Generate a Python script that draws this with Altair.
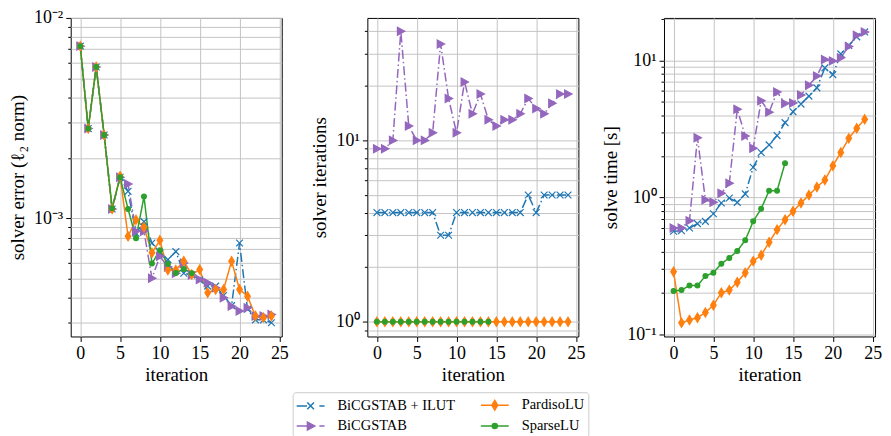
import altair as alt
import pandas as pd

series_names = ["BiCGSTAB + ILUT", "BiCGSTAB", "PardisoLU", "SparseLU"]
colors = ["#1f77b4", "#9467bd", "#ff7f0e", "#2ca02c"]

# solver error (l2 norm)
err_ilut = [7.23e-3, 2.80e-3, 5.69e-3, 2.60e-3, 1.11e-3, 1.60e-3, 1.36e-3, 8.4e-4, 9.6e-4, 7.5e-4,
            6.7e-4, 6.2e-4, 6.8e-4, 5.3e-4, 5.2e-4, 4.9e-4, 4.57e-4, 4.57e-4, 4.1e-4, 3.65e-4,
            7.5e-4, 3.5e-4, 3.1e-4, 3.1e-4, 3.0e-4]
err_bicg = [7.23e-3, 2.80e-3, 5.69e-3, 2.60e-3, 1.11e-3, 1.60e-3, 1.48e-3, 8.6e-4, 8.6e-4, 5.0e-4,
            6.45e-4, 5.7e-4, 5.3e-4, 5.97e-4, 5.2e-4, 4.93e-4, 4.75e-4, 4.49e-4, 4.0e-4, 3.63e-4,
            3.43e-4, 3.56e-4, 3.24e-4, 3.24e-4, 3.3e-4]
err_pardiso = [7.23e-3, 2.80e-3, 5.69e-3, 2.60e-3, 1.11e-3, 1.62e-3, 8.1e-4, 9.8e-4, 9.0e-4, 6.7e-4,
               7.74e-4, 5.5e-4, 5.5e-4, 6.09e-4, 5.22e-4, 5.53e-4, 4.23e-4, 4.40e-4, 4.40e-4, 6.09e-4,
               4.40e-4, 4.07e-4, 3.24e-4, 3.18e-4, 3.24e-4]
err_sparse = [7.23e-3, 2.80e-3, 5.69e-3, 2.60e-3, 1.12e-3, 1.60e-3, 1.11e-3, 7.92e-4, 1.28e-3, 5.93e-4,
              6.9e-4, 5.9e-4, 5.32e-4, 5.57e-4, 5.3e-4]

# solver iterations
it_ilut = [4, 4, 4, 4, 4, 4, 4, 4, 3, 3, 4, 4, 4, 4, 4, 4, 4, 4, 4, 5, 4, 5, 5, 5, 5]
it_bicg = [9, 9, 10, 40, 12, 10, 10, 11, 34, 17, 11, 21, 14, 18, 13, 12, 13, 13, 14, 17, 15, 14, 16, 18, 18]
it_pardiso = [1, 1, 1, 1, 1, 1, 1, 1, 1, 1, 1, 1, 1, 1, 1, 1, 1, 1, 1, 1, 1, 1, 1, 1, 1]
it_sparse = [1, 1, 1, 1, 1, 1, 1, 1, 1, 1, 1, 1, 1, 1, 1]

# solve time [s]
t_ilut = [0.565, 0.57, 0.597, 0.643, 0.668, 0.76, 0.909, 0.989, 0.92, 1.06, 1.66, 2.13, 2.42, 2.83,
          3.52, 4.23, 4.81, 5.5, 6.32, 8.85, 7.9, 11.2, 12.9, 14.9, 16.2]
t_bicg = [0.597, 0.597, 0.675, 2.73, 0.96, 0.92, 1.07, 1.27, 4.4, 2.81, 2.29, 5.09, 4.2, 5.9, 4.86,
          4.9, 5.6, 6.6, 7.7, 10.2, 9.95, 10.5, 12.7, 15.3, 16.2]
t_pardiso = [0.286, 0.121, 0.127, 0.132, 0.144, 0.163, 0.201, 0.210, 0.240, 0.281, 0.342, 0.378, 0.47,
             0.581, 0.687, 0.791, 0.91, 1.04, 1.19, 1.34, 1.70, 2.13, 2.70, 3.20, 3.72]
t_sparse = [0.207, 0.21, 0.227, 0.227, 0.266, 0.281, 0.327, 0.361, 0.406, 0.486, 0.668, 0.826, 1.12,
            1.12, 1.78]

x_ticks = [0, 5, 10, 15, 20, 25]

FONT = "Liberation Serif"

marker_paths = [
    "M-0.85,-0.85L0.85,0.85M-0.85,0.85L0.85,-0.85",
    "M-0.85,-1L1,0L-0.85,1Z",
    "M0,-1.15L0.7,0L0,1.15L-0.7,0Z",
    "M-0.6,0A0.6,0.6,0,1,0,0.6,0A0.6,0.6,0,1,0,-0.6,0Z",
]
legend_paths = [
    "M-1.75,0H-0.45M1.1,0H1.75M-0.42,-0.42L0.42,0.42M-0.42,0.42L0.42,-0.42",
    "M-1.75,0H-0.45M1.1,0H1.75M-0.4,-0.5L0.52,0L-0.4,0.5Z",
    "M-1.75,0H1.75M0,-0.6L0.36,0L0,0.6L-0.36,0Z",
    "M-1.75,0H1.75M-0.32,0A0.32,0.32,0,1,0,0.32,0A0.32,0.32,0,1,0,-0.32,0Z",
]
dash_range = [[9, 3, 1.5, 3], [9, 3, 1.5, 3], [1, 0], [1, 0]]


def make_df(ilut, bicg, pardiso, sparse):
    rows = []
    for name, vals in [("BiCGSTAB + ILUT", ilut), ("BiCGSTAB", bicg),
                       ("PardisoLU", pardiso), ("SparseLU", sparse)]:
        for i, v in enumerate(vals):
            rows.append({"iteration": i, "value": v, "series": name})
    return pd.DataFrame(rows)


def panel(df, ytitle, ydomain, yvalues, ylabels, with_legend=False):
    expr = " : ".join([f"datum.value == {v} ? '{t}'" for v, t in ylabels]) + " : ''"
    x = alt.X("iteration:Q",
              scale=alt.Scale(domain=[-1.2, 25.3], nice=False, zero=False),
              axis=alt.Axis(values=x_ticks, title="iteration", grid=True, labelFlush=False,
                            tickSize=5, labelPadding=3, titlePadding=3))
    y = alt.Y("value:Q",
              scale=alt.Scale(type="log", domain=ydomain, nice=False),
              axis=alt.Axis(values=yvalues, title=ytitle, grid=True, labelExpr=expr,
                            labelFlush=False, labelPadding=3, titlePadding=6,
                            tickSize={"condition": {"test": "abs(log(datum.value)/LN10 - round(log(datum.value)/LN10)) < 0.001", "value": 5}, "value": 3}))
    base = alt.Chart(df)
    lines = base.mark_line(strokeWidth=1.5).encode(
        x=x, y=y,
        color=alt.Color("series:N", scale=alt.Scale(domain=series_names, range=colors), legend=None),
        strokeDash=alt.StrokeDash("series:N", scale=alt.Scale(domain=series_names, range=dash_range), legend=None),
    )
    pts = base.mark_point(filled=True, opacity=1, size=64, strokeWidth=1.2).encode(
        x=x, y=y,
        color=alt.Color("series:N", scale=alt.Scale(domain=series_names, range=colors), legend=None),
        stroke=alt.Stroke("series:N", scale=alt.Scale(domain=series_names, range=colors), legend=None),
        shape=alt.Shape("series:N", scale=alt.Scale(domain=series_names, range=marker_paths), legend=None),
    )
    layers = [lines, pts]
    if with_legend:
        leg = alt.Legend(orient="none", legendX=-75, legendY=376, columns=2, title=None,
                         symbolSize=256, symbolStrokeWidth=1.5, labelFontSize=14.5, labelFont=FONT,
                         strokeColor="#cccccc", fillColor="white", cornerRadius=3, padding=4,
                         columnPadding=22, rowPadding=4, labelOffset=18, symbolOffset=5)
        dummy = base.transform_filter("false").mark_point(filled=True, opacity=1, size=256, strokeWidth=1.5).encode(
            x=x, y=y,
            color=alt.Color("series:N", scale=alt.Scale(domain=series_names, range=colors), legend=leg),
            stroke=alt.Stroke("series:N", scale=alt.Scale(domain=series_names, range=colors), legend=leg),
            shape=alt.Shape("series:N", scale=alt.Scale(domain=series_names, range=legend_paths), legend=leg),
        )
        layers.append(dummy)
    return alt.layer(*layers).resolve_scale(
        color="independent", stroke="independent", shape="independent", strokeDash="independent"
    ).properties(width=212, height=320)


vals_err = [3e-4, 4e-4, 5e-4, 6e-4, 7e-4, 8e-4, 9e-4, 1e-3, 2e-3, 3e-3, 4e-3, 5e-3, 6e-3, 7e-3, 8e-3, 9e-3, 1e-2]
vals_it = [0.9, 1, 2, 3, 4, 5, 6, 7, 8, 9, 10, 20, 30, 40]
vals_t = [0.1, 0.2, 0.3, 0.4, 0.5, 0.6, 0.7, 0.8, 0.9, 1, 2, 3, 4, 5, 6, 7, 8, 9, 10, 20]

p1 = panel(make_df(err_ilut, err_bicg, err_pardiso, err_sparse), "solver error (ℓ₂ norm)",
           [2.56e-4, 1e-2], vals_err, [(0.01, "10⁻²"), (0.001, "10⁻³")])
p2 = panel(make_df(it_ilut, it_bicg, it_pardiso, it_sparse), "solver iterations",
           [0.83, 47.3], vals_it, [(1, "10⁰"), (10, "10¹")], with_legend=True)
p3 = panel(make_df(t_ilut, t_bicg, t_pardiso, t_sparse), "solve time [s]",
           [0.0962, 20.5], vals_t, [(0.1, "10⁻¹"), (1, "10⁰"), (10, "10¹")])

chart = alt.hconcat(p1, p2, p3, spacing=86, bounds="flush").resolve_scale(
    x="independent", y="independent", color="independent", stroke="independent",
    shape="independent", strokeDash="independent"
).properties(
    padding={"left": 0, "top": -1, "right": 0, "bottom": 0}
).configure(font=FONT).configure_view(
    stroke="black", strokeWidth=1
).configure_axis(
    domain=False, tickColor="black", tickWidth=1, labelColor="black", titleColor="black",
    gridColor="#c4c4c4", gridWidth=1, labelFont=FONT, titleFont=FONT,
    labelFontSize=18, titleFontSize=19, titleFontWeight="normal"
)

chart.save("out.html", embed_options={"renderer": "svg", "actions": False})
